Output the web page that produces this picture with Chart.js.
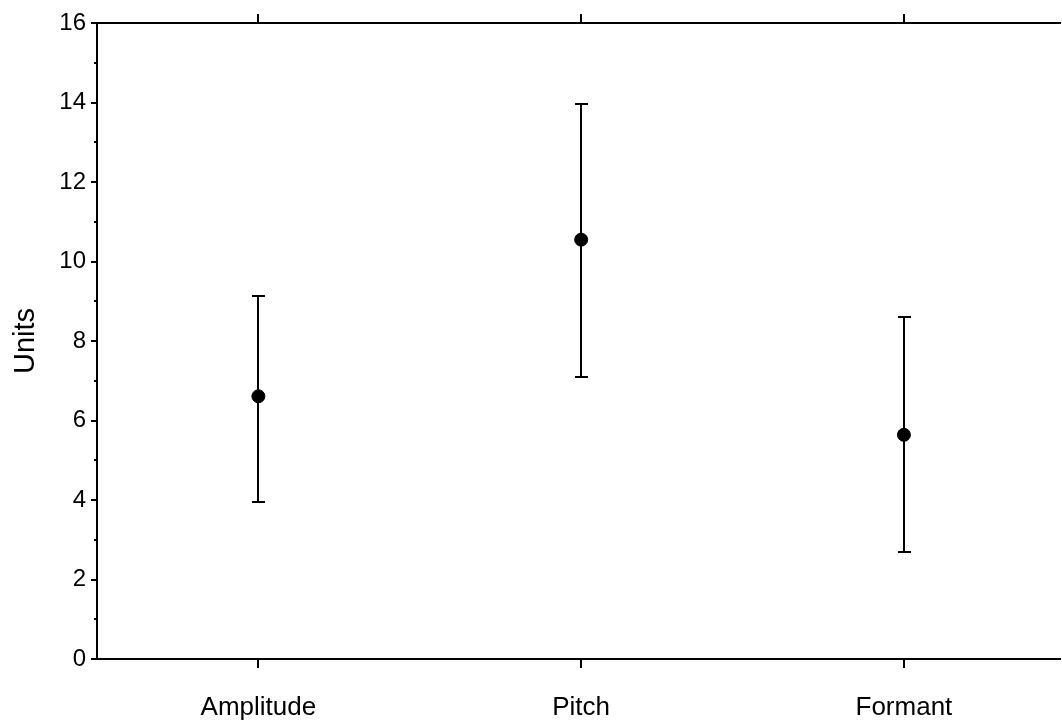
<!DOCTYPE html>
<html>
<head>
<meta charset="utf-8">
<script src="https://cdn.jsdelivr.net/npm/chart.js"></script>
<style>
  html, body { margin: 0; padding: 0; background: #fff; overflow: hidden; }
  /* plot runs off the right edge in the original, so the canvas is a bit wider than the page */
  #wrap { width: 1062px; height: 722px; overflow: hidden; }
</style>
</head>
<body>
<div id="wrap"><canvas id="errChart" width="1067" height="722"></canvas></div>
<script>
// data
const categories = ['Amplitude', 'Pitch', 'Formant'];
const means = [6.61, 10.55, 5.64];
const upper = [9.14, 13.95, 8.61];
const lower = [3.96, 7.10, 2.69];
const yTicks = [0, 2, 4, 6, 8, 10, 12, 14, 16];
const yMinor = [1, 3, 5, 7, 9, 11, 13, 15];

const FONT = '"Liberation Sans", Arial, sans-serif';
const xMin = -0.5, xMax = 2.482;

// error bars go under the dots
const errorBars = {
  id: 'errorBars',
  beforeDatasetsDraw(chart) {
    const ctx = chart.ctx, xs = chart.scales.x, ys = chart.scales.y;
    ctx.save();
    ctx.strokeStyle = '#000';
    ctx.lineWidth = 2;
    categories.forEach((c, i) => {
      const x = Math.round(xs.getPixelForValue(i));
      const yt = Math.round(ys.getPixelForValue(upper[i]));
      const yb = Math.round(ys.getPixelForValue(lower[i]));
      ctx.beginPath();
      ctx.moveTo(x, yt); ctx.lineTo(x, yb);
      ctx.moveTo(x - 6, yt); ctx.lineTo(x + 7, yt);
      ctx.moveTo(x - 6, yb); ctx.lineTo(x + 7, yb);
      ctx.stroke();
    });
    ctx.restore();
  }
};

// short minor ticks on the value axis
const minorTicks = {
  id: 'minorTicks',
  afterDraw(chart) {
    const ctx = chart.ctx, ys = chart.scales.y, left = chart.chartArea.left;
    ctx.save();
    ctx.strokeStyle = '#000';
    ctx.lineWidth = 2;
    yMinor.forEach(v => {
      const y = Math.round(ys.getPixelForValue(v));
      ctx.beginPath();
      ctx.moveTo(left - 3, y); ctx.lineTo(left, y);
      ctx.stroke();
    });
    ctx.restore();
  }
};

const catTicks = s => { s.ticks = categories.map((c, i) => ({ value: i })); };
const fitX = h => s => { s.height = h; s.paddingLeft = 0; s.paddingRight = 0; };

new Chart(document.getElementById('errChart'), {
  type: 'scatter',
  data: {
    datasets: [{
      data: means.map((m, i) => ({ x: i, y: m })),
      backgroundColor: '#000',
      borderColor: '#000',
      pointRadius: 6.5,
      pointHoverRadius: 6.5,
      showLine: false
    }]
  },
  options: {
    responsive: false,
    animation: false,
    layout: { padding: 0 },
    plugins: { legend: { display: false }, tooltip: { enabled: false } },
    scales: {
      x: {
        type: 'linear', position: 'bottom', min: xMin, max: xMax,
        afterBuildTicks: catTicks,
        afterFit: fitX(63),
        ticks: {
          callback: v => categories[v], color: '#000', padding: 24,
          font: { family: FONT, size: 26 }, maxRotation: 0, autoSkip: false
        },
        grid: { drawOnChartArea: false, tickLength: 9, color: '#000', lineWidth: 2 },
        border: { color: '#000', width: 2 }
      },
      x2: {
        type: 'linear', position: 'top', min: xMin, max: xMax,
        afterBuildTicks: catTicks,
        afterFit: fitX(23),
        ticks: { display: false },
        grid: { drawOnChartArea: false, tickLength: 9, color: '#000', lineWidth: 2 },
        border: { color: '#000', width: 2 }
      },
      y: {
        min: 0, max: 16,
        afterBuildTicks: s => { s.ticks = yTicks.map(v => ({ value: v })); },
        afterFit: s => { s.width = 97; },
        ticks: { color: '#000', padding: 5, font: { family: FONT, size: 24 } },
        grid: { drawOnChartArea: false, tickLength: 6, color: '#000', lineWidth: 2 },
        border: { color: '#000', width: 2 },
        title: {
          display: true, text: 'Units', color: '#000',
          font: { family: FONT, size: 29 }, padding: { top: 9, bottom: 0 }
        }
      }
    }
  },
  plugins: [errorBars, minorTicks]
});
</script>
</body>
</html>
